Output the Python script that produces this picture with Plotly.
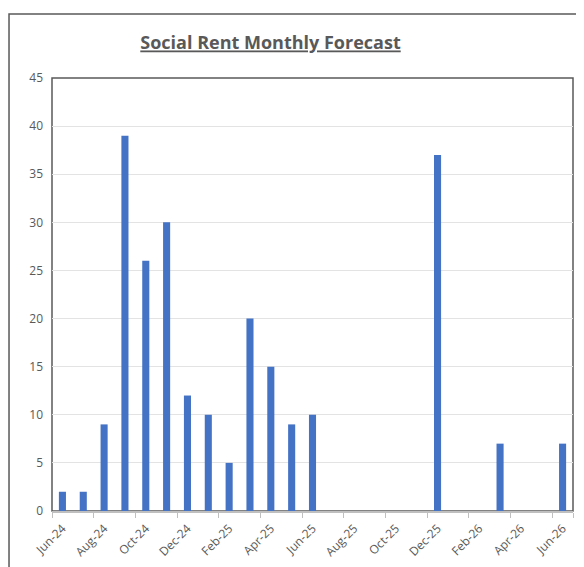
import plotly.graph_objects as go

months = ["Jun-24", "Jul-24", "Aug-24", "Sep-24", "Oct-24", "Nov-24", "Dec-24",
          "Jan-25", "Feb-25", "Mar-25", "Apr-25", "May-25", "Jun-25", "Jul-25",
          "Aug-25", "Sep-25", "Oct-25", "Nov-25", "Dec-25", "Jan-26", "Feb-26",
          "Mar-26", "Apr-26", "May-26", "Jun-26"]
values = [2, 2, 9, 39, 26, 30, 12, 10, 5, 20, 15, 9, 10, 0, 0, 0, 0, 0, 37,
          0, 0, 7, 0, 0, 7]
y_ticks = [0, 5, 10, 15, 20, 25, 30, 35, 40, 45]

fig = go.Figure(go.Bar(x=months, y=values, marker_color="#4472C4",
                       marker_line_width=0))

fig.update_layout(
    width=584, height=567,
    margin=dict(l=44, r=19, t=70, b=64, autoexpand=False),
    paper_bgcolor="white", plot_bgcolor="white",
    bargap=0.66,
    showlegend=False,
    font=dict(family="Open Sans", color="#595959", size=12),
    title=dict(text="<b><u>Social Rent Monthly Forecast</u></b>",
               x=0.4495, xanchor="center", y=0.938, yanchor="middle",
               font=dict(family="Open Sans", size=18, color="#595959")),
    xaxis=dict(type="category", tickmode="array", automargin=False,
               tickvals=months[::2], ticktext=months[::2],
               tickson="boundaries", ticks="outside", ticklen=5,
               tickcolor="#bfbfbf", tickangle=-45, ticklabelstandoff=4,
               showline=True, linecolor="#bfbfbf", linewidth=1.5,
               showgrid=False, tickfont=dict(size=12, color="#595959")),
    yaxis=dict(range=[0, 45], tickvals=y_ticks, showgrid=True, automargin=False,
               gridcolor="#e3e3e3", gridwidth=1, ticks="",
               ticklabelstandoff=8, showline=False, zeroline=False,
               tickfont=dict(size=12, color="#595959")),
    shapes=[
        dict(type="rect", xref="paper", yref="paper", x0=0, x1=1, y0=0, y1=1,
             line=dict(color="#595959", width=1.5), layer="below"),
        dict(type="rect", xref="paper", yref="paper", x0=-0.0825, x1=1.1,
             y0=-0.2, y1=1.148, line=dict(color="#595959", width=1.5),
             layer="below"),
    ],
)

fig.write_html("out.html")
